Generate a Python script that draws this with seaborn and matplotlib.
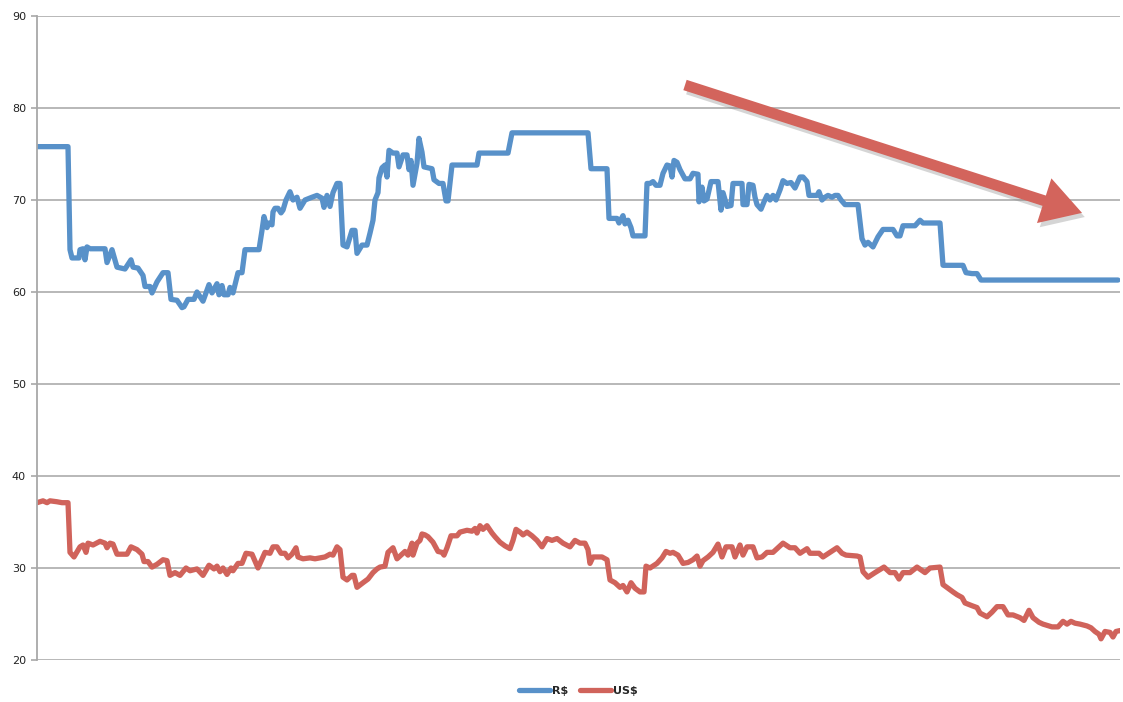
import matplotlib
matplotlib.use('Agg')
import matplotlib.pyplot as plt
import matplotlib.patheffects as pe
import numpy as np
import pandas as pd
import seaborn as sns

sns.set_style("white")
plt.rcParams['font.family'] = ['DejaVu Sans']

# day index (arbitrary trading-day scale) and price values
brl_days = [37, 68, 70, 72, 79, 80, 83, 85, 87, 90, 105, 107, 112, 117, 125, 131, 133, 138, 143, 145,
            150, 152, 157, 163, 168, 171, 177, 182, 184, 188, 194, 197, 203, 209, 212, 217, 219, 222, 224, 228,
            230, 233, 238, 242, 245, 259, 262, 264, 267, 269, 272, 273, 275, 278, 281, 283, 286, 290, 293, 297,
            300, 305, 312, 317, 322, 324, 327, 330, 333, 337, 340, 343, 347, 352, 355, 357, 362, 367, 370, 373,
            375, 378, 379, 382, 385, 387, 389, 393, 397, 399, 403, 407, 409, 411, 413, 417, 419, 422, 424, 428,
            432, 434, 439, 443, 446, 448, 452, 477, 479, 508, 512, 588, 591, 607, 609, 617, 619, 623, 625, 628,
            631, 633, 645, 647, 650, 653, 656, 660, 663, 667, 670, 672, 674, 677, 680, 685, 690, 693, 698, 699,
            702, 704, 707, 711, 718, 721, 723, 727, 731, 733, 742, 743, 747, 749, 753, 755, 757, 761, 764, 767,
            770, 773, 776, 780, 783, 787, 791, 795, 800, 803, 807, 809, 817, 819, 822, 825, 828, 832, 835, 838,
            841, 845, 858, 862, 865, 868, 873, 878, 883, 893, 897, 900, 903, 915, 920, 923, 940, 943, 963, 966,
            972, 977, 981, 1118]
brl_values = [75.8, 75.8, 64.6, 63.7, 63.7, 64.6, 64.7, 63.5, 64.9, 64.7, 64.7, 63.2, 64.6, 62.7, 62.5, 63.5, 62.7, 62.6, 61.8, 60.6,
              60.6, 59.9, 61.1, 62.1, 62.1, 59.2, 59.1, 58.3, 58.4, 59.2, 59.2, 60.0, 59.0, 60.8, 59.9, 60.9, 59.7, 60.7, 59.7, 59.7,
              60.5, 59.9, 62.1, 62.1, 64.6, 64.6, 66.7, 68.2, 67.0, 67.5, 67.3, 68.7, 69.1, 69.1, 68.6, 68.9, 70.0, 70.9, 70.0, 70.3,
              69.1, 70.0, 70.3, 70.5, 70.2, 69.2, 70.5, 69.3, 70.8, 71.8, 71.8, 65.1, 64.9, 66.7, 66.7, 64.2, 65.1, 65.1, 66.4, 67.8,
              70.0, 70.8, 72.4, 73.5, 73.8, 72.5, 75.4, 75.1, 75.1, 73.6, 74.9, 74.9, 73.3, 74.3, 71.6, 74.0, 76.7, 75.2, 73.6, 73.5,
              73.4, 72.2, 71.8, 71.8, 69.9, 69.9, 73.8, 73.8, 75.1, 75.1, 77.3, 77.3, 73.4, 73.4, 68.0, 68.0, 67.5, 68.3, 67.4, 67.8,
              67.0, 66.1, 66.1, 71.8, 71.8, 72.0, 71.6, 71.6, 72.9, 73.8, 73.7, 72.5, 74.3, 74.1, 73.3, 72.3, 72.3, 72.9, 72.8, 69.8,
              71.4, 69.9, 70.1, 72.0, 72.0, 68.9, 70.8, 69.3, 69.4, 71.8, 71.8, 69.5, 69.5, 71.7, 71.6, 70.3, 69.5, 69.0, 69.8, 70.5,
              70.0, 70.5, 70.0, 71.1, 72.1, 71.8, 71.9, 71.3, 72.5, 72.5, 72.0, 70.5, 70.5, 70.9, 70.0, 70.3, 70.5, 70.3, 70.5, 70.5,
              70.0, 69.5, 69.5, 65.8, 65.1, 65.4, 64.9, 66.0, 66.8, 66.8, 66.1, 66.1, 67.2, 67.2, 67.8, 67.5, 67.5, 62.9, 62.9, 62.1,
              62.0, 62.0, 61.3, 61.3]

usd_days = [37, 43, 47, 50, 57, 62, 68, 70, 74, 80, 83, 86, 88, 93, 100, 105, 107, 110, 113, 117,
            122, 127, 131, 137, 142, 144, 148, 152, 157, 163, 167, 170, 175, 180, 186, 190, 197, 203, 209, 214,
            217, 220, 223, 227, 231, 233, 238, 242, 246, 252, 258, 265, 270, 273, 277, 281, 285, 288, 292, 296,
            298, 303, 310, 315, 320, 325, 330, 333, 337, 340, 343, 347, 352, 354, 357, 363, 368, 373, 377, 380,
            385, 388, 393, 397, 401, 405, 408, 412, 413, 417, 420, 422, 425, 428, 433, 438, 442, 444, 447, 451,
            457, 460, 467, 472, 475, 477, 480, 483, 487, 492, 495, 500, 505, 510, 513, 516, 520, 523, 527, 532,
            537, 542, 547, 552, 557, 563, 570, 575, 580, 585, 588, 590, 593, 602, 607, 610, 615, 620, 623, 627,
            631, 635, 640, 644, 646, 650, 657, 662, 666, 670, 673, 678, 683, 688, 693, 697, 700, 703, 708, 713,
            718, 722, 726, 732, 735, 740, 743, 747, 753, 757, 762, 767, 773, 778, 783, 790, 795, 800, 807, 810,
            819, 823, 830, 837, 842, 846, 857, 860, 863, 868, 875, 884, 890, 895, 899, 903, 910, 917, 925, 930,
            940, 943, 948, 953, 957, 962, 965, 972, 977, 980, 987, 992, 997, 1003, 1008, 1013, 1020, 1024, 1029, 1033,
            1039, 1043, 1052, 1058, 1063, 1067, 1071, 1075, 1080, 1087, 1091, 1095, 1099, 1101, 1105, 1110, 1113, 1116, 1120]
usd_values = [37.1, 37.3, 37.1, 37.3, 37.2, 37.1, 37.1, 31.7, 31.2, 32.3, 32.5, 31.7, 32.7, 32.5, 32.9, 32.7, 32.2, 32.7, 32.6, 31.5,
              31.5, 31.5, 32.3, 32.0, 31.5, 30.7, 30.7, 30.1, 30.4, 30.9, 30.8, 29.2, 29.5, 29.2, 30.0, 29.7, 29.9, 29.2, 30.3, 29.9,
              30.2, 29.6, 30.0, 29.3, 30.0, 29.7, 30.5, 30.5, 31.6, 31.5, 30.0, 31.7, 31.6, 32.3, 32.3, 31.6, 31.6, 31.1, 31.5, 32.2,
              31.2, 31.0, 31.1, 31.0, 31.1, 31.2, 31.5, 31.4, 32.3, 32.0, 29.0, 28.7, 29.2, 29.2, 27.9, 28.4, 28.8, 29.5, 29.9, 30.1,
              30.2, 31.7, 32.2, 31.0, 31.4, 31.8, 31.4, 32.7, 31.4, 32.7, 33.0, 33.7, 33.6, 33.4, 32.8, 31.8, 31.7, 31.4, 32.2, 33.5,
              33.5, 33.9, 34.1, 34.0, 34.3, 33.8, 34.6, 34.2, 34.6, 33.8, 33.4, 32.8, 32.4, 32.1, 33.0, 34.2, 33.9, 33.6, 33.9, 33.5,
              33.0, 32.3, 33.2, 33.0, 33.2, 32.7, 32.3, 33.0, 32.7, 32.7, 32.0, 30.5, 31.2, 31.2, 30.9, 28.7, 28.4, 27.9, 28.1, 27.4,
              28.4, 27.8, 27.4, 27.4, 30.2, 30.0, 30.5, 31.1, 31.8, 31.6, 31.7, 31.4, 30.5, 30.6, 30.9, 31.3, 30.2, 30.8, 31.2, 31.7,
              32.6, 31.2, 32.3, 32.3, 31.2, 32.5, 31.4, 32.3, 32.3, 31.1, 31.2, 31.7, 31.7, 32.2, 32.7, 32.2, 32.2, 31.6, 32.1, 31.6,
              31.6, 31.2, 31.7, 32.2, 31.6, 31.4, 31.3, 31.2, 29.6, 29.0, 29.5, 30.1, 29.5, 29.5, 28.8, 29.5, 29.5, 30.1, 29.5, 30.0,
              30.1, 28.2, 27.8, 27.4, 27.1, 26.8, 26.2, 25.9, 25.7, 25.1, 24.7, 25.2, 25.8, 25.8, 24.9, 24.9, 24.6, 24.3, 25.4, 24.6,
              24.1, 23.9, 23.6, 23.6, 24.2, 23.9, 24.2, 24.0, 23.9, 23.7, 23.5, 23.1, 22.8, 22.3, 23.1, 23.0, 22.5, 23.1, 23.2]

series_names = ['R$', 'US$']
y_ticks = [20, 30, 40, 50, 60, 70, 80, 90]

df = pd.concat([
    pd.DataFrame({'day': brl_days, 'value': brl_values, 'series': series_names[0]}),
    pd.DataFrame({'day': usd_days, 'value': usd_values, 'series': series_names[1]}),
])

blue = '#5891c9'
red = '#d0635b'

fig = plt.figure(figsize=(11.23, 7.02), dpi=100)
ax = fig.add_axes([37 / 1123, 1 - 660 / 702, (1120 - 37) / 1123, (660 - 16) / 702])

sns.lineplot(data=df, x='day', y='value', hue='series', palette=[blue, red],
             estimator=None, sort=False, linewidth=3.8, ax=ax,
             solid_joinstyle='round', solid_capstyle='round')

ax.set_xlim(37, 1120)
ax.set_ylim(20, 90)
ax.set_yticks(y_ticks)
ax.set_yticklabels([str(t) for t in y_ticks], fontsize=8, color='#222222')
ax.set_xticks([])
ax.set_xlabel('')
ax.set_ylabel('')
ax.yaxis.grid(True, color='#b2b2b2', linewidth=1.3)
ax.set_axisbelow(True)
for s in ['top', 'right', 'bottom']:
    ax.spines[s].set_visible(False)
ax.spines['left'].set_color('#a8a8a8')
ax.spines['left'].set_linewidth(1.3)
ax.tick_params(axis='y', which='both', left=True, length=4, width=1.2,
               color='#a8a8a8', pad=4)

# trend arrow
arrow = ax.annotate('', xy=(1082, 68.6), xytext=(685, 82.5),
                    xycoords='data', textcoords='data',
                    arrowprops=dict(arrowstyle='simple,head_length=2.2,head_width=2.6,tail_width=0.6',
                                    color='#d3645c', lw=0, shrinkA=0, shrinkB=0,
                                    mutation_scale=13))
arrow.arrow_patch.set_path_effects([pe.withSimplePatchShadow(offset=(2, -3), shadow_rgbFace='#888888',
                                                             alpha=0.35)])

leg = ax.legend(loc='upper center', bbox_to_anchor=(0.5, -0.025), ncol=2, frameon=False,
                handlelength=2.8, columnspacing=1.0, handletextpad=0.2,
                prop={'size': 8, 'weight': 'bold'})
for line in leg.get_lines():
    line.set_linewidth(3.8)

fig.savefig('out.png', dpi=100)
